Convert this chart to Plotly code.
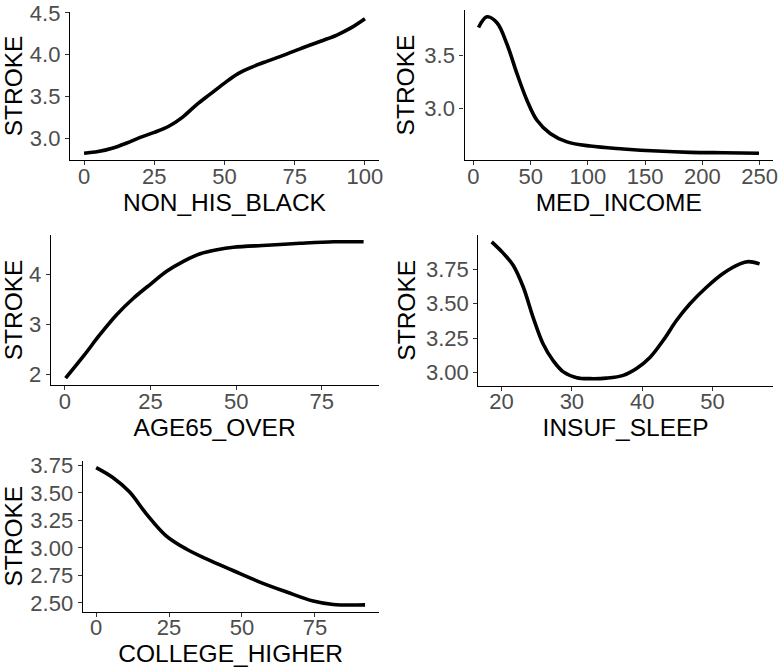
import plotly.graph_objects as go

# smoothed STROKE response for each predictor
non_his_black = [0, 5, 10, 15, 20, 25, 30, 35, 40, 45, 50, 55, 60, 65, 70, 75, 80, 85, 90, 95, 100]
stroke_black = [2.82, 2.84, 2.88, 2.94, 3.01, 3.07, 3.14, 3.25, 3.40, 3.53, 3.66, 3.776, 3.855, 3.92, 3.98,
                4.045, 4.11, 4.17, 4.235, 4.32, 4.43]

med_income = [4.4, 11.7, 20.5, 29.2, 38, 46.7, 55.5, 67, 81.7, 102, 131, 160.5, 189.6, 218.7, 249.5]
stroke_income = [3.765, 3.866, 3.81, 3.61, 3.33, 3.08, 2.89, 2.766, 2.687, 2.647, 2.62, 2.60, 2.588, 2.584, 2.58]

age65_over = [0.2, 5.4, 10.2, 15.1, 20, 25.3, 29.7, 34.6, 39.5, 44.4, 49.2, 59, 68.7, 78.5, 87.2]
stroke_age = [1.93, 2.37, 2.80, 3.20, 3.53, 3.83, 4.07, 4.27, 4.42, 4.50, 4.55, 4.59, 4.63, 4.66, 4.66]

insuf_sleep = [18.6, 20.2, 21.65, 23.1, 24.5, 25.9, 27.3, 28.8, 30.7, 32.6, 34.9, 37.3, 39.2, 41.1, 43.0,
               44.9, 46.8, 49.15, 51.5, 53.9, 55.1, 56.7]
stroke_sleep = [3.95, 3.87, 3.78, 3.62, 3.40, 3.21, 3.09, 3.005, 2.963, 2.956, 2.96, 2.98, 3.03, 3.11, 3.235,
                3.38, 3.50, 3.62, 3.72, 3.79, 3.806, 3.79]

college_higher = [0, 5.7, 11.4, 17.2, 24, 30.9, 37.8, 46.9, 56.1, 65.3, 74.4, 81.3, 92.2]
stroke_college = [3.73, 3.64, 3.51, 3.31, 3.11, 2.99, 2.90, 2.795, 2.69, 2.60, 2.517, 2.486, 2.483]

# tick values / labels
x_ticks = [[0, 25, 50, 75, 100], [0, 50, 100, 150, 200, 250], [0, 25, 50, 75], [20, 30, 40, 50], [0, 25, 50, 75]]
y_ticks = [[3.0, 3.5, 4.0, 4.5], [3.0, 3.5], [2, 3, 4], [3.0, 3.25, 3.5, 3.75, 4.0],
           [2.5, 2.75, 3.0, 3.25, 3.5, 3.75]]
y_labels = [["3.0", "3.5", "4.0", "4.5"], ["3.0", "3.5"], ["2", "3", "4"],
            ["3.00", "3.25", "3.50", "3.75", "4.00"], ["2.50", "2.75", "3.00", "3.25", "3.50", "3.75"]]

series = [
    ("NON_HIS_BLACK", non_his_black, stroke_black),
    ("MED_INCOME", med_income, stroke_income),
    ("AGE65_OVER", age65_over, stroke_age),
    ("INSUF_SLEEP", insuf_sleep, stroke_sleep),
    ("COLLEGE_HIGHER", college_higher, stroke_college),
]

W, H = 780, 670
# panel boxes in pixels: x0, x1, y0 (top), y1 (bottom)
boxes = [(70, 379, 12, 160), (464.5, 773, 10, 160), (50.7, 378.5, 235, 385),
         (478.3, 773, 235, 385.5), (82.7, 378.5, 460.7, 611.7)]
y_standoff = [10, 2, 11, 3, 11]
x_standoff = [0, 2, 0, 0, 0]

FONT = "Liberation Sans, Arial, sans-serif"


def expand(v):
    lo, hi = min(v), max(v)
    pad = (hi - lo) * 0.05
    return [lo - pad, hi + pad]


fig = go.Figure()
layout = {}
for i, (name, xs, ys) in enumerate(series):
    n = "" if i == 0 else str(i + 1)
    fig.add_trace(go.Scatter(x=xs, y=ys, mode="lines", xaxis="x" + n, yaxis="y" + n,
                             line=dict(color="black", width=3.6, shape="spline", smoothing=1.0),
                             hoverinfo="skip"))
    x0, x1, y0, y1 = boxes[i]
    common = dict(showline=True, linecolor="black", linewidth=1.3, showgrid=False, zeroline=False,
                  automargin=False, ticklabeloverflow="allow",
                  ticks="outside", ticklen=4, tickwidth=1.2, tickcolor="#333333",
                  tickfont=dict(family=FONT, size=22, color="#4d4d4d"))
    layout["xaxis" + n] = dict(common, domain=[x0 / W, x1 / W], anchor="y" + n,
                               range=expand(xs), tickvals=x_ticks[i], ticklabelstandoff=-8,
                               title=dict(text=name, standoff=x_standoff[i],
                                          font=dict(family=FONT, size=24.5, color="black")))
    layout["yaxis" + n] = dict(common, domain=[1 - y1 / H, 1 - y0 / H], anchor="x" + n,
                               range=expand(ys), tickvals=y_ticks[i], ticktext=y_labels[i],
                               title=dict(text="STROKE", standoff=y_standoff[i],
                                          font=dict(family=FONT, size=24.5, color="black")))

fig.update_layout(width=W, height=H, margin=dict(l=0, r=0, t=0, b=0), showlegend=False,
                  plot_bgcolor="white", paper_bgcolor="white", **layout)

# drop the default page margin so the figure fills the window
fig.write_html("out.html", config={"displayModeBar": False},
               post_script="document.body.style.margin = '0';")
